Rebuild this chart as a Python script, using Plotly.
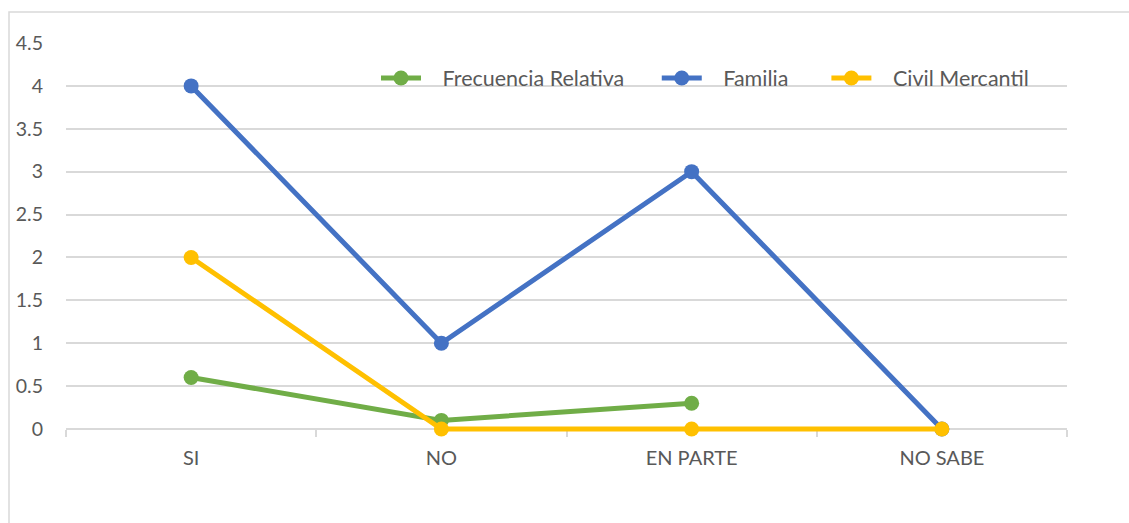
import plotly.graph_objects as go

categories = ["SI", "NO", "EN PARTE", "NO SABE"]
frecuencia_relativa = [0.6, 0.1, 0.3, None]
familia = [4, 1, 3, 0]
civil_mercantil = [2, 0, 0, 0]
y_ticks = [0, 0.5, 1, 1.5, 2, 2.5, 3, 3.5, 4, 4.5]
y_tick_labels = ["0", "0.5", "1", "1.5", "2", "2.5", "3", "3.5", "4", "4.5"]
series_names = ["Frecuencia Relativa", "Familia", "Civil Mercantil"]
series_colors = ["#70AD47", "#4472C4", "#FFC000"]
legend_trailing = [5, 6, 0]

W, H = 1129, 523
L, R, T, B = 66, 62, 43, 89
pw = W - L - R
ph = H - T - B
zero_px = 429          # pixel row of value 0
y_top = 4.5
ymin = -(H - B - zero_px) / (zero_px - T) * y_top

def px(x):
    return (x - L) / pw

def py(y):
    return (H - B - y) / ph

NB = "\u00a0"
fig = go.Figure()
for name, vals, col, trail in zip(series_names,
                                  [frecuencia_relativa, familia, civil_mercantil],
                                  series_colors, legend_trailing):
    fig.add_trace(go.Scatter(
        x=categories, y=vals, name=NB * 3 + name + NB * trail, mode="lines+markers",
        line=dict(color=col, width=5),
        marker=dict(color=col, size=15),
        connectgaps=False, cliponaxis=False,
    ))

fig.update_layout(
    width=W, height=H,
    margin=dict(l=L, r=R, t=T, b=B),
    paper_bgcolor="white", plot_bgcolor="white",
    font=dict(family="Lato, Open Sans, sans-serif", size=19, color="#595959"),
    showlegend=True,
    legend=dict(orientation="h", x=px(376), y=py(78), xanchor="left", yanchor="middle",
                font=dict(size=21.5, color="#595959"), itemwidth=40, tracegroupgap=0,
                bgcolor="rgba(0,0,0,0)"),
    xaxis=dict(
        type="category", tickson="boundaries", ticks="outside", ticklen=7,
        tickcolor="#D9D9D9", tickwidth=1.5, showline=True, linecolor="#D9D9D9", linewidth=1.5,
        showgrid=False, zeroline=False, range=[-0.5, 3.5], layer="below traces",
        anchor="free", position=py(zero_px),
        tickfont=dict(size=20, color="#595959"), ticklabelstandoff=11,
    ),
    yaxis=dict(
        range=[ymin, y_top], tickvals=y_ticks, ticktext=y_tick_labels,
        showgrid=True, gridcolor="#D9D9D9", gridwidth=1.5, zeroline=False,
        showline=False, ticks="", tickfont=dict(size=19.5, color="#595959"),
        ticklabelstandoff=22, layer="below traces",
    ),
    shapes=[dict(type="rect", xref="paper", yref="paper",
                 x0=px(9), x1=px(1140), y0=py(540), y1=py(12),
                 line=dict(color="#D9D9D9", width=1.5), fillcolor="rgba(0,0,0,0)", layer="below")],
)

fig.write_html("out.html", config={"displayModeBar": False},
               post_script="document.body.style.margin='0';")
